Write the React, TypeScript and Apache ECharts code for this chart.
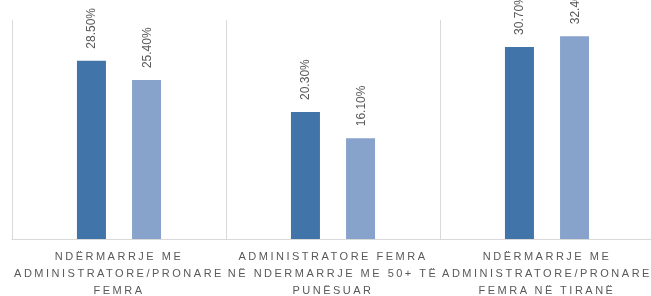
import React, { useEffect, useRef } from "react";
import * as echarts from "echarts";

const categories = [
  "NDËRMARRJE ME ADMINISTRATORE/PRONARE FEMRA",
  "ADMINISTRATORE FEMRA NË NDERMARRJE ME 50+ TË PUNËSUAR",
  "NDËRMARRJE ME ADMINISTRATORE/PRONARE FEMRA NË TIRANË",
];
const categoryLines = [
  ["NDËRMARRJE ME", "ADMINISTRATORE/PRONARE", "FEMRA"],
  ["ADMINISTRATORE FEMRA", "NË NDERMARRJE ME 50+ TË", "PUNËSUAR"],
  ["NDËRMARRJE ME", "ADMINISTRATORE/PRONARE", "FEMRA NË TIRANË"],
];
const series1Values = [28.5, 20.3, 30.7];
const series2Values = [25.4, 16.1, 32.4];
const series1Name = "Seria 1";
const series2Name = "Seria 2";

export default function App() {
  const ref = useRef<HTMLDivElement>(null);
  useEffect(() => {
    const el = ref.current!;
    const chart = echarts.init(el, undefined, { renderer: "svg" });
    const lineSet = new Set<string>();
    categoryLines.forEach((ls) => ls.forEach((l) => lineSet.add(l)));

    const label = {
      show: true,
      position: "top" as const,
      distance: 12,
      rotate: 90,
      align: "left" as const,
      verticalAlign: "middle" as const,
      color: "#595959",
      fontSize: 12,
      fontFamily: "Liberation Sans",
      formatter: (p: any) => Number(p.value).toFixed(2) + "%",
    };

    chart.setOption({
      animation: false,
      grid: {
        left: 12,
        right: -3,
        top: 20,
        bottom: 57,
        containLabel: false,
        outerBoundsMode: "none",
      },
      xAxis: {
        type: "category",
        data: categories,
        boundaryGap: true,
        axisTick: { show: false },
        axisLine: { show: true, lineStyle: { color: "#d9d9d9", width: 1 } },
        splitLine: { show: true, interval: 0, lineStyle: { color: "#d9d9d9", width: 1 } },
        axisLabel: {
          interval: 0,
          margin: 8,
          color: "#595959",
          fontSize: 11,
          lineHeight: 17,
          fontFamily: "Liberation Sans",
          formatter: (_v: string, i: number) => categoryLines[i].join("\n"),
        },
      },
      yAxis: { type: "value", min: 0, max: 35, show: false, splitLine: { show: false } },
      series: [
        {
          name: series1Name,
          type: "bar",
          data: series1Values,
          barWidth: 29,
          barGap: "90%",
          itemStyle: { color: "#4174a8" },
          label,
        },
        {
          name: series2Name,
          type: "bar",
          data: series2Values,
          barWidth: 29,
          barGap: "90%",
          itemStyle: { color: "#87a3cb" },
          label,
        },
      ],
    });

    const applySpacing = () => {
      el.querySelectorAll("text, tspan").forEach((t) => {
        const s = (t.textContent || "").trim();
        if (lineSet.has(s)) {
          (t as SVGElement).setAttribute("letter-spacing", "2.5");
        }
      });
    };
    applySpacing();
    chart.on("finished", applySpacing);
    const raf = requestAnimationFrame(applySpacing);
    const to = setTimeout(applySpacing, 50);

    return () => {
      cancelAnimationFrame(raf);
      clearTimeout(to);
      chart.dispose();
    };
  }, []);
  return (
    <div
      ref={ref}
      style={{ position: "fixed", left: 0, top: 0, width: 651, height: 296 }}
    />
  );
}
